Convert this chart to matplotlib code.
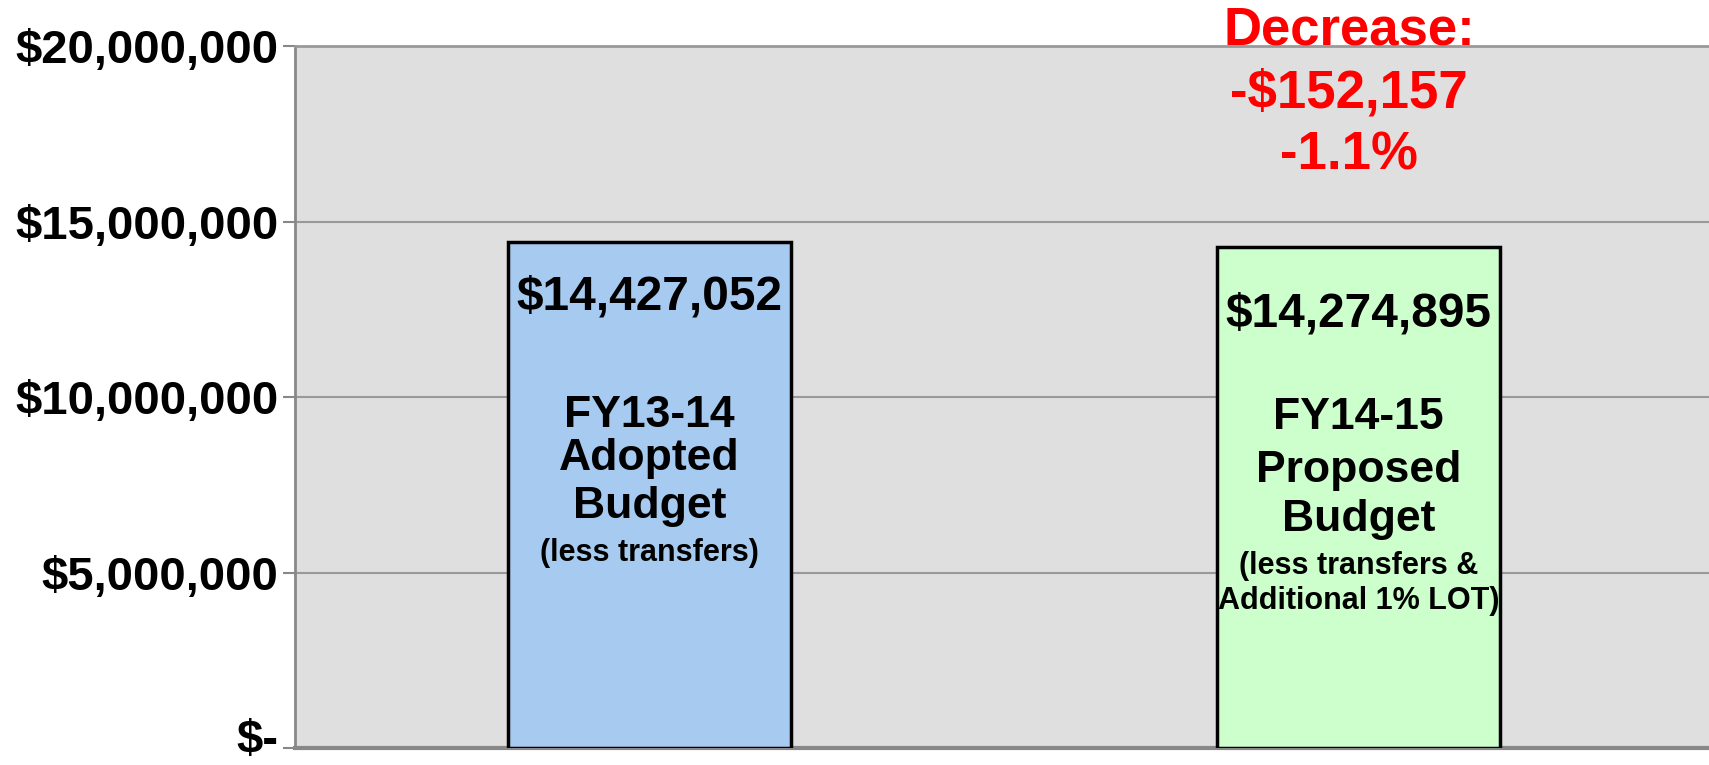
#budget comparison bar chart

#import packages
import matplotlib
matplotlib.use('Agg')
import matplotlib.pyplot as plt
import matplotlib.transforms as mtransforms

plt.rcParams['font.family'] = ['Liberation Sans', 'DejaVu Sans']
plt.rcParams['font.weight'] = 'bold'

#data
budgets = [14427052, 14274895]
value_labels = ['$14,427,052', '$14,274,895']
bar_colors = ['#a6caf0', '#ccffcc']
bar_text = [
    ['FY13-14', 'Adopted', 'Budget', '(less transfers)'],
    ['FY14-15', 'Proposed', 'Budget', '(less transfers &', 'Additional 1% LOT)'],
]
change_text = ['Decrease:', '-$152,157', '-1.1%']
y_ticks = [0, 5000000, 10000000, 15000000, 20000000]

def money(v):
    if v == 0:
        return '$-'
    return '${:,.0f}'.format(v)

fig = plt.figure(figsize=(17.09, 7.65), dpi=100)
ax = fig.add_axes([0.1726, 0.0222, 0.8297, 0.9176])
ax.set_facecolor('#dfdfdf')

x = range(len(budgets))
ax.bar(x, budgets, width=0.4, color=bar_colors, edgecolor='black', linewidth=2.5, zorder=3)

ax.set_xlim(-0.5, 1.5)
ax.set_ylim(0, 20000000)
ax.set_yticks(y_ticks)
ax.set_yticklabels([money(v) for v in y_ticks], fontsize=34, fontweight='bold')
ax.set_xticks([])
ax.tick_params(axis='y', length=9, width=1.5, color='#888888', pad=3)
ax.yaxis.grid(True, color='#999999', linewidth=1.5, zorder=1)
ax.set_axisbelow(True)

# nudge the "$-" label up so it stays inside the figure
zero_lbl = ax.get_yticklabels()[0]
zero_lbl.set_transform(zero_lbl.get_transform() +
                       mtransforms.ScaledTranslation(0, 12/100, fig.dpi_scale_trans))

ax.spines['right'].set_visible(False)
ax.spines['left'].set_color('#888888')
ax.spines['left'].set_linewidth(2)
ax.spines['top'].set_color('#999999')
ax.spines['top'].set_linewidth(2)
ax.spines['bottom'].set_color('#888888')
ax.spines['bottom'].set_linewidth(3)

# value labels inside the bars
label_y = [12850000, 12380000]
for i in x:
    ax.text(i, label_y[i], value_labels[i], ha='center', va='center',
            fontsize=34.5, fontweight='bold', zorder=4)

# description text inside the bars
line_y = [
    [9480000, 8250000, 6880000, 5560000],
    [9430000, 7920000, 6520000, 5200000, 4180000],
]
for i in x:
    for j, line in enumerate(bar_text[i]):
        size = 32 if j < 3 else 22
        ax.text(i, line_y[i][j], line, ha='center', va='center',
                fontsize=size, fontweight='bold', zorder=4)

# change annotation
change_y = [20450000, 18660000, 16870000]
for line, yy in zip(change_text, change_y):
    ax.text(0.987, yy, line, ha='center', va='center', color='#ff0000',
            fontsize=38, fontweight='bold', clip_on=False, zorder=5)

plt.savefig('out.png', dpi=100)
